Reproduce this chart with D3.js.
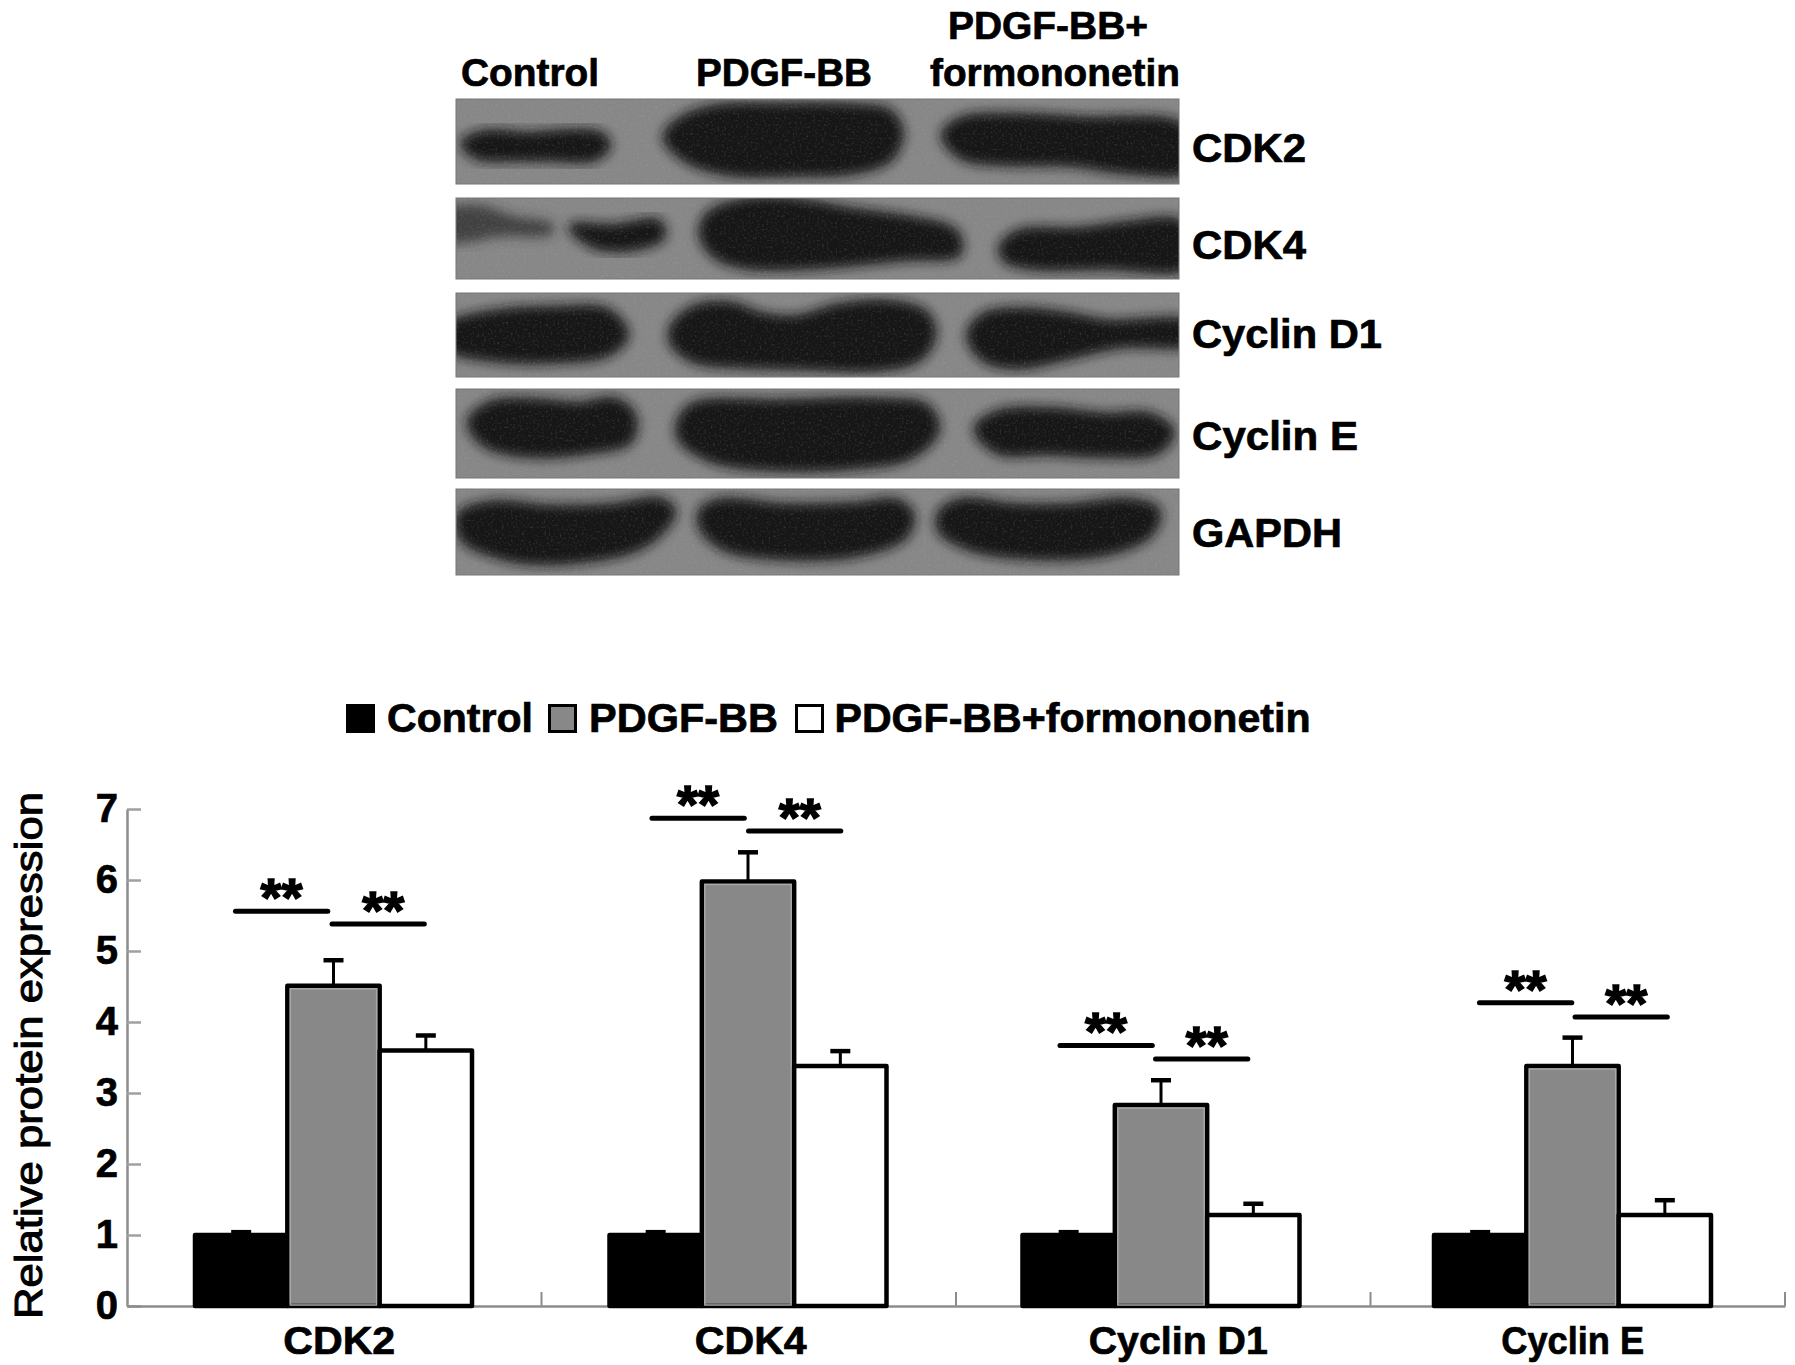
<!DOCTYPE html>
<html>
<head>
<meta charset="utf-8">
<script src="https://cdn.jsdelivr.net/npm/d3@7"></script>
<style>
  body { margin: 0; background: #fff; }
  text { font-family: "Liberation Sans", Arial, sans-serif; font-weight: bold; fill: #000; stroke: #000; stroke-width: 0.7px; }
</style>
</head>
<body>
<div id="chart"></div>
<script>
// bar chart values
const categories = ["CDK2", "CDK4", "Cyclin D1", "Cyclin E"];
const groups = ["Control", "PDGF-BB", "PDGF-BB+formononetin"];
const control = [1, 1, 1, 1];
const controlTop = [1.04, 1.04, 1.04, 1.04];
const pdgf = [4.51, 5.98, 2.83, 3.38];
const pdgfTop = [4.87, 6.39, 3.18, 3.78];
const formo = [3.6, 3.38, 1.28, 1.28];
const formoTop = [3.81, 3.59, 1.44, 1.49];
const sigLeft = [5.56, 6.87, 3.67, 4.27];
const sigRight = [5.38, 6.69, 3.48, 4.07];
const yTicks = [0, 1, 2, 3, 4, 5, 6, 7];

// blot rows: band outlines in percent of the panel, [u, v]
const blotNames = ["CDK2", "CDK4", "Cyclin D1", "Cyclin E", "GAPDH"];
const blotCdk2 = [
  [[1,52],[4,40],[10,42],[16,39],[20,42],[21,55],[19,70],[13,70],[8,70],[3,68]],
  [[29,45],[31,25],[36,10],[45,8],[55,9],[60,16],[61.5,40],[60,70],[55,85],[47,88],[38,87],[32,72]],
  [[67.5,42],[70,24],[77,20],[87,24],[100,30],[102,60],[101,84],[92,84],[85,76],[76,75],[70,68]]
];
const blotCdk4 = [
  [[16,36],[22,36],[28,30],[28.5,48],[24,62],[19,58]],
  [[34,45],[35,20],[41,3],[47,4],[55,16],[63,26],[69,42],[69.5,68],[62,74],[50,84],[40,84],[36,72]],
  [[75.5,60],[78,42],[86,40],[93,32],[100,30],[102,60],[101,85],[90,85],[80,85],[76,76]]
];
const blotCdk4Smear = [[-2,20],[3,12],[8,26],[13,34],[13,42],[6,44],[1,52],[-2,50]];
const blotD1 = [
  [[-1,40],[5,24],[14,19],[21,22],[23.5,50],[21,72],[14,80],[5,78],[-1,65]],
  [[30,40],[33,18],[38,14],[42,26],[47,30],[53,16],[60,12],[65,25],[66,50],[64,78],[58,90],[48,88],[40,86],[33,80],[30,60]],
  [[71,50],[73,27],[79,21],[85,27],[90,35],[102,37],[102,58],[92,62],[85,75],[78,87],[73,78]]
];
const blotE = [
  [[2,35],[5,16],[11,14],[17,18],[22,13],[24.5,30],[24,58],[18,70],[11,74],[5,66],[2.5,50]],
  [[31,35],[33,18],[45,15],[58,13],[65,20],[66.5,45],[63,75],[55,87],[42,88],[35,78],[31,55]],
  [[72,45],[75,27],[82,24],[90,30],[96,30],[99,48],[97,70],[90,74],[82,71],[75,70]]
];
const blotGapdh = [
  [[0.5,30],[5,17],[13,22],[22,20],[28,13],[30,25],[28,52],[24,72],[12,85],[6,78],[1,58]],
  [[34,25],[37,14],[45,20],[55,19],[61,15],[63,30],[62,55],[55,76],[43,78],[37,68],[34,45]],
  [[67,28],[70,14],[77,20],[85,20],[93,14],[97,25],[96,52],[90,74],[78,78],[71,68],[67,48]]
];
const blotBands = [blotCdk2, blotCdk4, blotD1, blotE, blotGapdh];

// page layout
const width = 1795, height = 1365;
const panelTop = [99, 198, 293, 389, 489];
const panelBottom = [184, 279, 377, 478, 575];
const nameBaseline = [162, 259, 348, 450, 547];
const nameWidth = [114, 114, 190, 166, 150];
const barShift = [0, 0, -1.5, -4.5];
const sigShiftLeft = [0, 2, -3, 5];
const sigShiftRight = [0, 2, -4, 4];
const xLabelShift = [5, 2, 15, -5];
const xLabelWidth = [112, 112, 179, 143];

const svg = d3.select("#chart").append("svg")
  .attr("width", width)
  .attr("height", height)
  .style("display", "block");

// filters for the blot
const defs = svg.append("defs");
defs.append("filter").attr("id", "blur")
  .attr("x", "-20%").attr("y", "-30%").attr("width", "140%").attr("height", "160%")
  .append("feGaussianBlur").attr("stdDeviation", 6);
const grain = defs.append("filter").attr("id", "grain");
grain.append("feTurbulence")
  .attr("type", "fractalNoise").attr("baseFrequency", 0.45).attr("numOctaves", 2).attr("seed", 4);
grain.append("feColorMatrix")
  .attr("values", "0 0 0 0 0.5  0 0 0 0 0.5  0 0 0 0 0.5  1.6 0 0 0 -0.82");

// blot panels
const u = d3.scaleLinear().domain([0, 100]).range([456, 1179]);
const outline = d3.line().curve(d3.curveCatmullRomClosed.alpha(0.5));

blotNames.forEach((name, i) => {
  const v = d3.scaleLinear().domain([0, 100]).range([panelTop[i], panelBottom[i]]);
  const toPx = pts => outline(pts.map(p => [u(p[0]), v(p[1])]));

  defs.append("clipPath").attr("id", "panel" + i)
    .append("rect")
    .attr("x", u(0)).attr("y", v(0))
    .attr("width", u(100) - u(0)).attr("height", v(100) - v(0));

  const g = svg.append("g").attr("clip-path", `url(#panel${i})`);
  g.append("rect")
    .attr("x", u(0)).attr("y", v(0))
    .attr("width", u(100) - u(0)).attr("height", v(100) - v(0))
    .attr("fill", "#878787");

  if (name === "CDK4") {
    g.append("path").attr("d", toPx(blotCdk4Smear))
      .attr("fill", "#2c2c2c").attr("opacity", 0.75)
      .attr("stroke", "#2c2c2c").attr("stroke-width", 6)
      .attr("filter", "url(#blur)");
  }
  g.selectAll("path.band")
    .data(blotBands[i])
    .join("path")
    .attr("class", "band")
    .attr("d", toPx)
    .attr("fill", "#181818")
    .attr("stroke", "#181818")
    .attr("stroke-width", 7)
    .attr("stroke-linejoin", "round")
    .attr("filter", "url(#blur)");
  g.append("rect")
    .attr("x", u(0)).attr("y", v(0))
    .attr("width", u(100) - u(0)).attr("height", v(100) - v(0))
    .attr("filter", "url(#grain)")
    .attr("opacity", 0.3);

  svg.append("rect")
    .attr("x", u(0)).attr("y", v(0))
    .attr("width", u(100) - u(0)).attr("height", v(100) - v(0))
    .attr("fill", "none").attr("stroke", "#777").attr("stroke-width", 1);

  svg.append("text")
    .attr("x", 1192)
    .attr("y", nameBaseline[i])
    .attr("font-size", 40)
    .attr("textLength", nameWidth[i])
    .attr("lengthAdjust", "spacingAndGlyphs")
    .text(name);
});

// blot column headers
const headers = [
  { t: "Control", x: 461, y: 86, w: 138 },
  { t: "PDGF-BB", x: 696, y: 86, w: 176 },
  { t: "PDGF-BB+", x: 948, y: 39, w: 200 },
  { t: "formononetin", x: 930, y: 86, w: 250 }
];
svg.selectAll("text.head")
  .data(headers)
  .join("text")
  .attr("class", "head")
  .attr("x", d => d.x)
  .attr("y", d => d.y)
  .attr("font-size", 38)
  .attr("textLength", d => d.w)
  .attr("lengthAdjust", "spacingAndGlyphs")
  .text(d => d.t);

// legend
const legend = [
  { x: 346, tx: 387, w: 146, fill: "#000" },
  { x: 548, tx: 589, w: 189, fill: "#888" },
  { x: 795, tx: 834.5, w: 476, fill: "#fff" }
];
legend.forEach((d, i) => {
  svg.append("rect")
    .attr("x", d.x + 1.5).attr("y", 705.5)
    .attr("width", 26).attr("height", 26)
    .attr("fill", d.fill).attr("stroke", "#000").attr("stroke-width", 3);
  svg.append("text")
    .attr("x", d.tx).attr("y", 732)
    .attr("font-size", 40)
    .attr("textLength", d.w)
    .attr("lengthAdjust", "spacingAndGlyphs")
    .text(groups[i]);
});

// scales
const x0 = d3.scaleBand().domain(categories).range([127, 1785]);
const x1 = d3.scaleBand().domain(groups).range([68, 345]);
const y = d3.scaleLinear().domain([0, 7]).range([1306, 809]);

// y axis
const yAxis = svg.append("g")
  .attr("transform", "translate(127,0)")
  .call(d3.axisLeft(y).tickValues(yTicks).tickFormat(d3.format("d")).tickSizeInner(-14).tickSizeOuter(0).tickPadding(9));
yAxis.select(".domain").attr("stroke", "#8c8c8c").attr("stroke-width", 2.5);
yAxis.selectAll(".tick line").attr("stroke", "#a0a0a0").attr("stroke-width", 2.5);
yAxis.selectAll(".tick text").attr("font-size", 40).attr("font-family", null).attr("fill", "#000");

svg.append("text")
  .attr("transform", "translate(42,1319) rotate(-90)")
  .attr("font-size", 39)
  .attr("textLength", 527)
  .attr("lengthAdjust", "spacingAndGlyphs")
  .style("font-weight", "normal")
  .style("stroke-width", "1px")
  .text("Relative protein expression");

// x axis
const xAxis = svg.append("g")
  .attr("transform", `translate(0,${y(0)})`)
  .call(d3.axisBottom(x0).tickSize(0).tickFormat(""));
xAxis.select(".domain").attr("stroke", "#8c8c8c").attr("stroke-width", 2.5);

svg.selectAll("line.sep")
  .data(categories)
  .join("line")
  .attr("class", "sep")
  .attr("x1", d => x0(d) + x0.bandwidth())
  .attr("x2", d => x0(d) + x0.bandwidth())
  .attr("y1", y(0))
  .attr("y2", y(0) - 14)
  .attr("stroke", "#8c8c8c")
  .attr("stroke-width", 2);

svg.selectAll("text.cat")
  .data(categories)
  .join("text")
  .attr("class", "cat")
  .attr("x", (d, i) => x0(d) + x0.bandwidth() / 2 + xLabelShift[i])
  .attr("y", 1354)
  .attr("text-anchor", "middle")
  .attr("font-size", 39)
  .attr("textLength", (d, i) => xLabelWidth[i])
  .attr("lengthAdjust", "spacingAndGlyphs")
  .text(d => d);

// bars, one loop per group
const series = [
  { name: groups[0], values: control, tops: controlTop, fill: "#000" },
  { name: groups[1], values: pdgf, tops: pdgfTop, fill: "#888" },
  { name: groups[2], values: formo, tops: formoTop, fill: "#fff" }
];
series.forEach(s => {
  const g = svg.append("g");
  const cx = i => x0(categories[i]) + x1(s.name) + x1.bandwidth() / 2 + barShift[i];

  // error bars go under the bar
  g.selectAll("line.stem")
    .data(s.tops)
    .join("line")
    .attr("class", "stem")
    .attr("x1", (d, i) => cx(i)).attr("x2", (d, i) => cx(i))
    .attr("y1", (d, i) => y(s.values[i])).attr("y2", d => y(d))
    .attr("stroke", "#000").attr("stroke-width", 3);
  g.selectAll("line.cap")
    .data(s.tops)
    .join("line")
    .attr("class", "cap")
    .attr("x1", (d, i) => cx(i) - 10).attr("x2", (d, i) => cx(i) + 10)
    .attr("y1", d => y(d)).attr("y2", d => y(d))
    .attr("stroke", "#000").attr("stroke-width", 4.5);

  g.selectAll("rect.bar")
    .data(s.values)
    .join("rect")
    .attr("class", "bar")
    .attr("x", (d, i) => x0(categories[i]) + x1(s.name) + barShift[i])
    .attr("y", d => y(d))
    .attr("width", x1.bandwidth())
    .attr("height", d => y(0) - y(d))
    .attr("fill", s.fill)
    .attr("stroke", "#000")
    .attr("stroke-width", 4.5)
    .attr("stroke-linejoin", "round");

  // the grey bars have a thin lighter edge just inside the outline
  if (s.fill === "#888") {
    g.selectAll("rect.edge")
      .data(s.values)
      .join("rect")
      .attr("class", "edge")
      .attr("x", (d, i) => x0(categories[i]) + x1(s.name) + barShift[i] + 3)
      .attr("y", d => y(d) + 3)
      .attr("width", x1.bandwidth() - 6)
      .attr("height", d => y(0) - y(d) - 4)
      .attr("fill", "none")
      .attr("stroke", "#a8a8a8")
      .attr("stroke-width", 1.5);
  }
});

// significance lines and stars
const sigSets = [
  { vals: sigLeft, from: groups[0], to: groups[1], shift: -5.7, each: sigShiftLeft, star: 0 },
  { vals: sigRight, from: groups[1], to: groups[2], shift: -1.5, each: sigShiftRight, star: 5 }
];
sigSets.forEach(set => {
  const sx = (name, i) => x0(categories[i]) + x1(name) + x1.bandwidth() / 2 + set.shift + set.each[i] + barShift[i];
  svg.append("g").selectAll("line")
    .data(set.vals)
    .join("line")
    .attr("x1", (d, i) => sx(set.from, i))
    .attr("x2", (d, i) => sx(set.to, i))
    .attr("y1", d => y(d))
    .attr("y2", d => y(d))
    .attr("stroke", "#000")
    .attr("stroke-width", 5)
    .attr("stroke-linecap", "round");
  svg.append("g").selectAll("text")
    .data(set.vals)
    .join("text")
    .attr("x", (d, i) => (sx(set.from, i) + sx(set.to, i)) / 2 + set.star)
    .attr("y", d => y(d) + 5)
    .attr("text-anchor", "middle")
    .attr("font-size", 54)
    .style("stroke-width", "1.5px")
    .text("**");
});
</script>
</body>
</html>
